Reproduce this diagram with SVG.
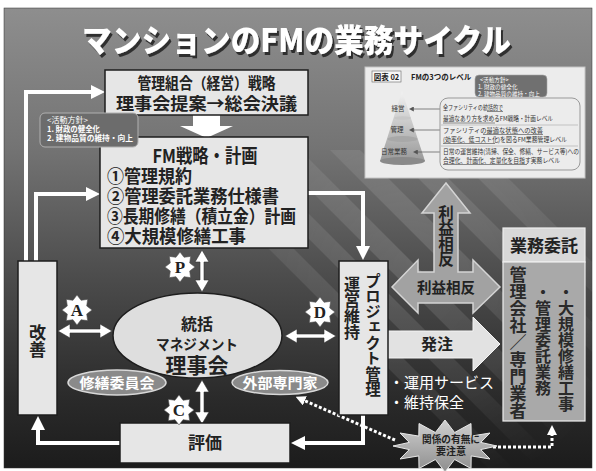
<svg xmlns="http://www.w3.org/2000/svg" width="596" height="471" viewBox="0 0 596 471">
<defs>
  <linearGradient id="bg" x1="0" y1="0" x2="0" y2="1">
    <stop offset="0" stop-color="#8e8e8e"/>
    <stop offset="0.3" stop-color="#747474"/>
    <stop offset="0.6" stop-color="#4a4a4a"/>
    <stop offset="0.85" stop-color="#2a2a2a"/>
    <stop offset="1" stop-color="#1c1c1c"/>
  </linearGradient>
  <radialGradient id="fade" cx="410" cy="260" r="240" gradientUnits="userSpaceOnUse">
    <stop offset="0" stop-color="#fff"/>
    <stop offset="0.6" stop-color="#888"/>
    <stop offset="1" stop-color="#000"/>
  </radialGradient>
  <mask id="stripeMask" maskUnits="userSpaceOnUse" x="0" y="0" width="596" height="471">
    <rect x="0" y="0" width="596" height="471" fill="url(#fade)"/>
  </mask>
  <linearGradient id="pyr" x1="0" y1="0" x2="0" y2="1">
    <stop offset="0" stop-color="#f2f2f2"/>
    <stop offset="1" stop-color="#9a9a9a"/>
  </linearGradient>
  <linearGradient id="warn" x1="0" y1="0" x2="0" y2="1">
    <stop offset="0" stop-color="#d0d0d0"/>
    <stop offset="1" stop-color="#8e8e8e"/>
  </linearGradient>
  <filter id="shadow" x="-5%" y="-20%" width="110%" height="150%">
    <feDropShadow dx="2" dy="3" stdDeviation="0.6" flood-color="#1a1a1a" flood-opacity="0.85"/>
  </filter>
  <marker id="ah" viewBox="0 0 14 14" refX="3" refY="7" markerWidth="14" markerHeight="14" markerUnits="userSpaceOnUse" orient="auto">
    <path d="M0,0 L14,7 L0,14 z" fill="#fff"/>
  </marker>
  <marker id="ahs" viewBox="0 0 10 10" refX="2" refY="5" markerWidth="10" markerHeight="10" markerUnits="userSpaceOnUse" orient="auto">
    <path d="M0,0 L10,5 L0,10 z" fill="#fff"/>
  </marker>
  <marker id="ahi" viewBox="0 0 6 6" refX="1" refY="3" markerWidth="5" markerHeight="5" markerUnits="userSpaceOnUse" orient="auto">
    <path d="M0,0 L6,3 L0,6 z" fill="#555"/>
  </marker>
  <polygon id="star" points="0,-15 4.02,-9.7 10.61,-10.61 9.7,-4.02 15,0 9.7,4.02 10.61,10.61 4.02,9.7 0,15 -4.02,9.7 -10.61,10.61 -9.7,4.02 -15,0 -9.7,-4.02 -10.61,-10.61 -4.02,-9.7"/>
</defs>
<style>
  .jp{font-family:"Noto Sans CJK JP","Noto Sans",sans-serif}
  .b{font-weight:700}
  .box{fill:#e6e6e6;stroke:#1e1e1e;stroke-width:1.5}
  .vt{writing-mode:vertical-rl}
  .dk{fill:#222}
  .wt{fill:#fff}
  .mid{text-anchor:middle}
  .wline{fill:none;stroke:#fff;stroke-width:4;marker-end:url(#ah)}
  .dot{fill:none;stroke:#fff;stroke-width:3;stroke-dasharray:3 2;marker-end:url(#ahs)}
  .dbl{fill:#fff;stroke:#333;stroke-width:0.6}
  .star{fill:#fff;stroke:#555;stroke-width:0.6}
  .ltr{font-family:"Liberation Serif",serif;font-weight:700;font-size:17px;fill:#222;text-anchor:middle}
  .act{fill:#6c6c6c;stroke:#b0b0b0;stroke-width:1}
  .sub{fill:#8a8a8a;stroke:#d8d8d8;stroke-width:1.5}
  .big{fill:#a2a2a2;stroke:#d4d4d4;stroke-width:1.5}
  .inset{font-size:6.3px;fill:#333}
  .sep{stroke:#aaa;stroke-width:0.6}
  .ul{stroke:#444;stroke-width:0.6}
</style>

<!-- background -->
<rect x="0" y="0" width="596" height="471" fill="#fff"/>
<rect x="4" y="8" width="588" height="460" fill="url(#bg)" stroke="#333" stroke-width="0.5"/>
<g mask="url(#stripeMask)" fill="#fff" opacity="0.13">
  <polygon points="170,150 195,150 515,470 490,470"/>
  <polygon points="220,150 245,150 565,470 540,470"/>
  <polygon points="270,150 300,150 592,442 592,470 590,470"/>
  <polygon points="330,150 360,150 592,382 592,412"/>
  <polygon points="390,150 420,150 592,322 592,352"/>
  <polygon points="450,150 480,150 592,262 592,292"/>
</g>

<!-- title -->
<g id="title">
  <text x="82" y="52" class="jp" font-size="32" font-weight="900" fill="#fff" filter="url(#shadow)" textLength="429" lengthAdjust="spacingAndGlyphs">マンションのFMの業務サイクル</text>
</g>

<!-- inset panel -->
<g id="inset">
  <rect x="365" y="67" width="220" height="111" fill="#ececec" stroke="#c4c4c4" stroke-width="1"/>
  <rect x="372" y="71" width="29" height="11" fill="#f8f8f8" stroke="#666" stroke-width="0.6"/>
  <text x="386.5" y="79.5" class="jp b mid" font-size="7.5" fill="#222">図表 02</text>
  <text x="411" y="79.5" class="jp b" font-size="7.5" fill="#222">FMの3つのレベル</text>
  <polygon points="402,91 380,161 425,161" fill="url(#pyr)"/>
  <ellipse cx="402.5" cy="118" rx="8.5" ry="1.8" fill="#c8c8c8"/>
  <ellipse cx="402.5" cy="139" rx="15" ry="3" fill="#a8a8a8"/>
  <ellipse cx="402.5" cy="161" rx="22.5" ry="4" fill="#8a8a8a"/>
  <text x="398" y="111" class="jp mid" font-size="6.5" fill="#333">経営</text>
  <text x="397" y="132" class="jp mid" font-size="6.5" fill="#333">管理</text>
  <text x="394" y="154" class="jp mid" font-size="6.5" fill="#333">日常業務</text>
  <line x1="440" y1="109" x2="413" y2="109" stroke="#555" stroke-width="0.7" marker-end="url(#ahi)"/>
  <line x1="440" y1="130" x2="413" y2="130" stroke="#555" stroke-width="0.7" marker-end="url(#ahi)"/>
  <line x1="440" y1="152" x2="417" y2="152" stroke="#555" stroke-width="0.7" marker-end="url(#ahi)"/>
  <rect x="440" y="98" width="140" height="72" rx="8" fill="none" stroke="#999" stroke-width="1"/>
  <text x="443" y="110" class="jp inset" textLength="60" lengthAdjust="spacingAndGlyphs">全ファシリティの統括的で</text>
  <text x="443" y="121" class="jp inset" textLength="110" lengthAdjust="spacingAndGlyphs">最適なあり方を求めるFM戦略・計画レベル</text>
  <line x1="443" y1="123" x2="495" y2="123" class="ul"/>
  <line x1="487" y1="111.5" x2="503" y2="111.5" class="ul"/>
  <line x1="441" y1="125" x2="578" y2="125" class="sep"/>
  <text x="443" y="133" class="jp inset" textLength="100" lengthAdjust="spacingAndGlyphs">ファシリティの最適な状態への改善</text>
  <line x1="483" y1="134.5" x2="543" y2="134.5" class="ul"/>
  <text x="443" y="142" class="jp inset" textLength="124" lengthAdjust="spacingAndGlyphs">(効率化、低コスト化)を図るFM業務管理レベル</text>
  <line x1="443" y1="143.5" x2="495" y2="143.5" class="ul"/>
  <line x1="441" y1="146" x2="578" y2="146" class="sep"/>
  <text x="443" y="154" class="jp inset" textLength="136" lengthAdjust="spacingAndGlyphs">日常の運営維持(清掃、保全、修繕、サービス等)への</text>
  <text x="443" y="163" class="jp inset" textLength="117" lengthAdjust="spacingAndGlyphs">合理化、計画化、定量化を目指す実務レベル</text>
  <line x1="443" y1="164.5" x2="527" y2="164.5" class="ul"/>
  <rect x="475" y="75" width="72" height="22" rx="4" fill="#707070" stroke="#aaa" stroke-width="0.6"/>
  <text x="480" y="82" class="jp" font-size="5.6" fill="#fff">&lt;活動方針&gt;</text>
  <text x="478" y="89" class="jp" font-size="5.6" fill="#fff">1. 財政の健全化</text>
  <text x="478" y="95.5" class="jp" font-size="5.6" fill="#fff">2. 建物品質の維持・向上</text>
</g>

<!-- connectors -->
<g id="connectors">
  <path class="wline" d="M26,261 V92 H94"/>
  <path class="wline" d="M36,261 V194 H89"/>
  <path class="wline" d="M308,193 H363 V249"/>
  <path class="wline" d="M363,415 V443 H302"/>
  <path class="wline" d="M120,443 H38 V427"/>
  <polygon fill="#fff" points="193,115 220,115 220,126 233,126 206.5,138 180,126 193,126"/>
  <polygon class="dbl" points="202,250 209,262 204,262 204,280 209,280 202,292 195,280 200,280 200,262 195,262"/>
  <polygon class="dbl" points="202,380 209,392 204,392 204,412 209,412 202,424 195,412 200,412 200,392 195,392"/>
  <polygon class="dbl" points="58,331 70,324 70,329 100,329 100,324 112,331 100,338 100,333 70,333 70,338"/>
  <polygon class="dbl" points="285,336 297,329 297,334 324,334 324,329 336,336 324,343 324,338 297,338 297,343"/>
  <polyline class="dot" points="395,440 303,400"/>
  <path class="dot" d="M493,447 H552 V433"/>
  <polygon class="big" points="446,183 470,213 458,213 458,272 473,272 473,260 500,287 473,313 473,303 418,303 418,313 392,287 418,260 418,272 434,272 434,213 422,213"/>
  <text x="446" y="205" class="jp b vt dk" font-size="15.5">利益相反</text>
  <text x="446" y="293" class="jp b mid dk" font-size="15" textLength="58" lengthAdjust="spacingAndGlyphs">利益相反</text>
  <polygon fill="#e2e2e2" stroke="#f4f4f4" stroke-width="1" points="388,331 473,331 473,317 500,344 473,371 473,358 388,358"/>
  <text x="437" y="350" class="jp b mid dk" font-size="16">発注</text>
</g>

<!-- nodes -->
<g id="n-strategy">
  <rect class="box" x="105" y="70" width="203" height="45"/>
  <text x="206.5" y="89" class="jp b mid dk" font-size="15.5" textLength="138" lengthAdjust="spacingAndGlyphs">管理組合（経営）戦略</text>
  <text x="206.5" y="110" class="jp b mid dk" font-size="17.5" textLength="181" lengthAdjust="spacingAndGlyphs">理事会提案→総会決議</text>
</g>
<g id="n-fm">
  <rect class="box" x="100" y="137" width="208" height="111" fill="#ebebeb"/>
  <text x="205" y="163" class="jp b mid dk" font-size="19" textLength="105" lengthAdjust="spacingAndGlyphs">FM戦略・計画</text>
  <text x="107" y="183" class="jp b dk" font-size="18" textLength="85" lengthAdjust="spacingAndGlyphs">①管理規約</text>
  <text x="107" y="203" class="jp b dk" font-size="18" textLength="172" lengthAdjust="spacingAndGlyphs">②管理委託業務仕様書</text>
  <text x="107" y="223" class="jp b dk" font-size="18" textLength="189" lengthAdjust="spacingAndGlyphs">③長期修繕（積立金）計画</text>
  <text x="107" y="243" class="jp b dk" font-size="18" textLength="139" lengthAdjust="spacingAndGlyphs">④大規模修繕工事</text>
</g>
<g id="n-policy">
  <rect class="act" x="40" y="113" width="98" height="34" rx="5"/>
  <text x="47" y="123" class="jp wt" font-size="8">&lt;活動方針&gt;</text>
  <text x="47" y="132" class="jp wt b" font-size="7.5" textLength="53" lengthAdjust="spacingAndGlyphs">1. 財政の健全化</text>
  <text x="47" y="141" class="jp wt b" font-size="7.5" textLength="86" lengthAdjust="spacingAndGlyphs">2. 建物品質の維持・向上</text>
</g>
<g id="n-kaizen">
  <rect class="box" x="18" y="261" width="39" height="154"/>
  <text x="37.5" y="324" class="jp b vt dk" font-size="17">改善</text>
</g>
<g id="n-board">
  <ellipse cx="197.5" cy="335.5" rx="84.5" ry="42.5" fill="#dedede" stroke="#1e1e1e" stroke-width="1.5"/>
  <text x="197" y="330" class="jp b mid dk" font-size="16">統括</text>
  <text x="197" y="350" class="jp b mid dk" font-size="14.5" textLength="82" lengthAdjust="spacingAndGlyphs">マネジメント</text>
  <text x="197" y="373" class="jp b mid dk" font-size="21">理事会</text>
</g>
<g id="n-repair">
  <ellipse class="sub" cx="117" cy="382.5" rx="49" ry="12.5"/>
  <text x="117" y="388" class="jp b mid wt" font-size="14" textLength="75" lengthAdjust="spacingAndGlyphs">修繕委員会</text>
</g>
<g id="n-expert">
  <ellipse class="sub" cx="280" cy="382.5" rx="48" ry="12"/>
  <text x="280" y="388" class="jp b mid wt" font-size="14" textLength="75" lengthAdjust="spacingAndGlyphs">外部専門家</text>
</g>
<g id="n-eval">
  <rect class="box" x="120" y="423" width="170" height="40"/>
  <text x="205" y="449" class="jp b mid dk" font-size="17">評価</text>
</g>
<g id="n-project">
  <rect class="box" x="339" y="261" width="49" height="154"/>
  <text x="373" y="273" class="jp b vt dk" font-size="15.5">プロジェクト管理</text>
  <text x="352" y="276" class="jp b vt dk" font-size="16">運営維持</text>
</g>
<g id="n-services">
  <text x="389" y="388" class="jp wt" font-size="15">・運用サービス</text>
  <text x="389" y="408" class="jp wt" font-size="15">・維持保全</text>
</g>
<g id="n-outsource">
  <rect x="503" y="228" width="82" height="34" fill="#d8d8d8" stroke="#eee" stroke-width="1.2"/>
  <rect x="503" y="262" width="82" height="159" fill="#a9a9a9" stroke="#eee" stroke-width="1.2"/>
  <text x="544" y="252" class="jp b mid dk" font-size="17">業務委託</text>
  <text x="518" y="266" class="jp b vt" font-size="17" fill="#2a2a2a">管理会社／専門業者</text>
  <text x="543" y="284" class="jp b vt" font-size="16" fill="#2a2a2a">・管理委託業務</text>
  <text x="566" y="284" class="jp b vt" font-size="16" fill="#2a2a2a">・大規模修繕工事</text>
</g>
<g id="n-warning">
  <polygon fill="url(#warn)" stroke="#e8e8e8" stroke-width="1" points="497,446 480.7,449.6 490,459 471.2,455.9 471,468.5 454.6,459.5 445,472 435.4,459.5 419,468.5 418.8,455.9 400,459 409.3,449.6 393,446 409.3,442.4 400,433 418.8,436.1 419,423.5 435.4,432.5 445,420 454.6,432.5 471,423.5 471.2,436.1 490,433 480.7,442.4"/>
  <text x="451" y="443" class="jp b mid dk" font-size="10" textLength="58" lengthAdjust="spacingAndGlyphs">関係の有無に</text>
  <text x="451" y="455" class="jp b mid dk" font-size="10">要注意</text>
</g>
<g id="n-stars">
  <use href="#star" x="180" y="267" class="star"/>
  <text x="180" y="273" class="ltr">P</text>
  <use href="#star" x="77" y="310" class="star"/>
  <text x="77" y="316" class="ltr">A</text>
  <use href="#star" x="179" y="410" class="star"/>
  <text x="179" y="416" class="ltr">C</text>
  <use href="#star" x="320" y="312" class="star"/>
  <text x="320" y="318" class="ltr">D</text>
</g>
</svg>
